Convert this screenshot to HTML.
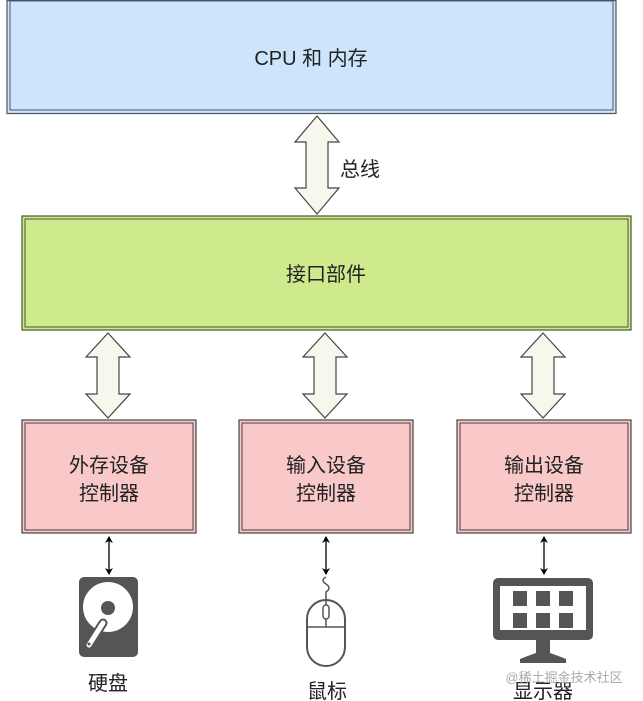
<!DOCTYPE html>
<html><head><meta charset="utf-8"><style>
html,body{margin:0;padding:0;background:#fff;}
svg{display:block;font-family:"Liberation Sans","Noto Sans CJK SC",sans-serif;}
</style></head><body>
<svg width="643" height="701" viewBox="0 0 643 701" xmlns="http://www.w3.org/2000/svg">
<defs>
<marker id="a" markerWidth="8" markerHeight="8" refX="6" refY="4" orient="auto-start-reverse" markerUnits="userSpaceOnUse"><path d="M0,0 L7,4 L0,8 L2,4 Z" fill="#000"/></marker>
</defs>
<rect x="7" y="0.5" width="609" height="113" fill="#cce5fc" stroke="#4a5560" stroke-width="1.2"/>
<rect x="10" y="1" width="603" height="109" fill="none" stroke="#4a5560" stroke-width="1"/>
<text x="311" y="65" font-size="20" text-anchor="middle" fill="#222">CPU 和 内存</text>
<path d="M317,116 L339,142 L328,142 L328,188 L339,188 L317,214 L295,188 L306,188 L306,142 L295,142 Z" fill="#f7f7ee" stroke="#444" stroke-width="1.2"/>
<text x="340" y="176" font-size="20" fill="#222">总线</text>
<rect x="22" y="216" width="609" height="114" fill="#cfe98d" stroke="#4a5530" stroke-width="1.2"/>
<rect x="25" y="219" width="603" height="108" fill="none" stroke="#4a5530" stroke-width="1"/>
<text x="326" y="281" font-size="20" text-anchor="middle" fill="#222">接口部件</text>
<g fill="#f7f7ee" stroke="#444" stroke-width="1.2">
<path d="M108,333 L130,357 L119,357 L119,394 L130,394 L108,418 L86,394 L97,394 L97,357 L86,357 Z"/>
<path d="M325,333 L347,357 L336,357 L336,394 L347,394 L325,418 L303,394 L314,394 L314,357 L303,357 Z"/>
<path d="M543,333 L565,357 L554,357 L554,394 L565,394 L543,418 L521,394 L532,394 L532,357 L521,357 Z"/>
</g>
<g fill="#f9c8c9" stroke="#444" stroke-width="1.2">
<rect x="22" y="420" width="174" height="113"/>
<rect x="239" y="420" width="174" height="113"/>
<rect x="457" y="420" width="174" height="113"/>
</g>
<g fill="none" stroke="#444" stroke-width="1">
<rect x="25" y="423" width="168" height="107"/>
<rect x="242" y="423" width="168" height="107"/>
<rect x="460" y="423" width="168" height="107"/>
</g>
<g font-size="20" text-anchor="middle" fill="#222">
<text x="109" y="472">外存设备</text><text x="109" y="500">控制器</text>
<text x="326" y="472">输入设备</text><text x="326" y="500">控制器</text>
<text x="544" y="472">输出设备</text><text x="544" y="500">控制器</text>
</g>
<g stroke="#000" stroke-width="1.3">
<line x1="109" y1="537" x2="109" y2="574" marker-start="url(#a)" marker-end="url(#a)"/>
<line x1="326" y1="537" x2="326" y2="574" marker-start="url(#a)" marker-end="url(#a)"/>
<line x1="544" y1="537" x2="544" y2="574" marker-start="url(#a)" marker-end="url(#a)"/>
</g>
<!-- hard disk -->
<rect x="79" y="577" width="59" height="80" rx="5" fill="#555"/>
<circle cx="108" cy="607" r="25" fill="#fff"/>
<circle cx="108" cy="608" r="7" fill="#555"/>
<line x1="89" y1="645" x2="103" y2="623" stroke="#555" stroke-width="9" stroke-linecap="round"/>
<line x1="89" y1="645" x2="103" y2="623" stroke="#fff" stroke-width="5" stroke-linecap="round"/>
<circle cx="89" cy="644" r="1.5" fill="#555"/>
<text x="108" y="690" font-size="20" text-anchor="middle" fill="#222">硬盘</text>
<!-- mouse -->
<path d="M326,577 Q320,580 326,584 Q332,588 326,592 L326,600" fill="none" stroke="#555" stroke-width="1.5"/>
<rect x="307" y="600" width="38" height="66" rx="19" fill="none" stroke="#555" stroke-width="2"/>
<line x1="307" y1="627" x2="345" y2="627" stroke="#555" stroke-width="1.5"/>
<line x1="326" y1="600" x2="326" y2="627" stroke="#555" stroke-width="1.5"/>
<rect x="323" y="605" width="6" height="14" rx="3" fill="#fff" stroke="#555" stroke-width="1.5"/>
<text x="327" y="698" font-size="20" text-anchor="middle" fill="#222">鼠标</text>
<!-- monitor -->
<rect x="493" y="578" width="100" height="62" rx="5" fill="#555"/>
<rect x="500" y="586" width="86" height="44" fill="#fff"/>
<rect x="536" y="639" width="14" height="16" fill="#555"/>
<path d="M520,663 L566,663 L566,659 Q556,655 550,653 L536,653 Q530,655 520,659 Z" fill="#555"/>
<g fill="#555">
<rect x="513" y="591" width="14" height="15"/><rect x="536" y="591" width="14" height="15"/><rect x="559" y="591" width="14" height="15"/>
<rect x="513" y="613" width="14" height="15"/><rect x="536" y="613" width="14" height="15"/><rect x="559" y="613" width="14" height="15"/>
</g>
<text x="543" y="698" font-size="20" text-anchor="middle" fill="#222">显示器</text>
<text x="564" y="682" font-size="13" text-anchor="middle" fill="#aaa">@稀土掘金技术社区</text>
</svg>
</body></html>
